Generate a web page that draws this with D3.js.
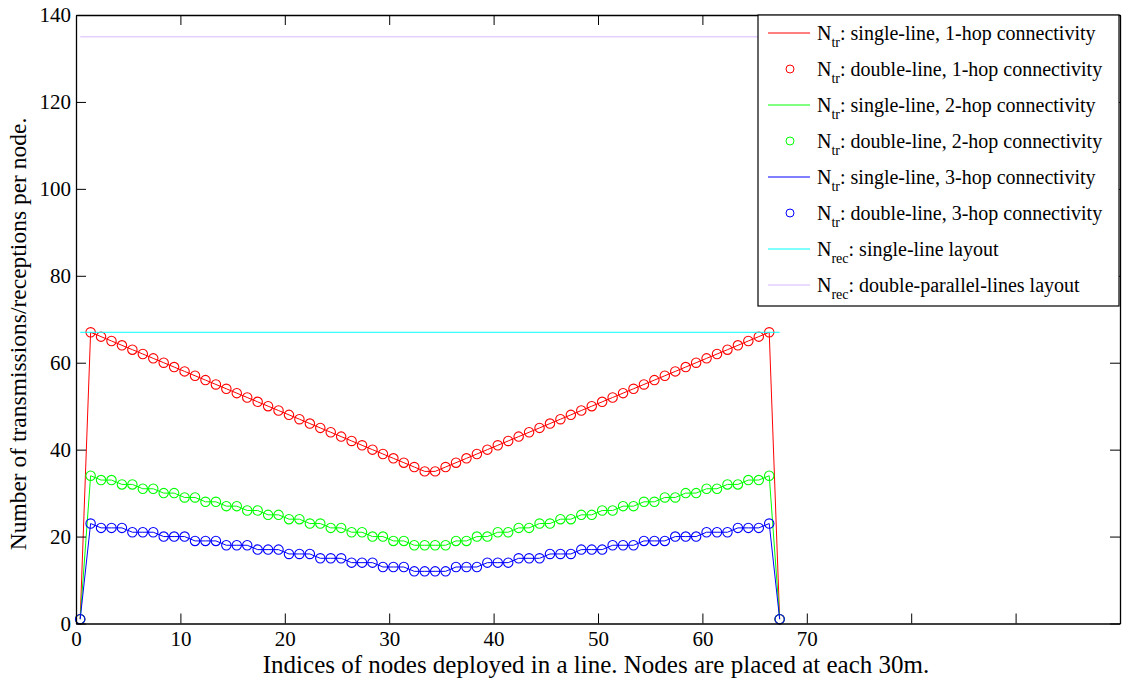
<!DOCTYPE html>
<html>
<head>
<meta charset="utf-8">
<script src="https://cdn.jsdelivr.net/npm/d3@7"></script>
<style>
    body { margin: 0; background: #fff; }
    text { font-family: "Liberation Serif", "Times New Roman", serif; fill: #000; }
</style>
</head>
<body>
<div id="chart"></div>
<script>
// node positions along the line (x) and per-node counts
const nodeX = [
    0.4, 1.4, 2.4, 3.4, 4.4, 5.4, 6.4, 7.4, 8.4, 9.4, 10.4, 11.4, 12.4, 13.4, 14.4, 15.4, 16.4,
    17.4, 18.4, 19.4, 20.4, 21.4, 22.4, 23.4, 24.4, 25.4, 26.4, 27.4, 28.4, 29.4, 30.4, 31.4, 32.4, 33.4,
    34.4, 35.4, 36.4, 37.4, 38.4, 39.4, 40.4, 41.4, 42.4, 43.4, 44.4, 45.4, 46.4, 47.4, 48.4, 49.4, 50.4,
    51.4, 52.4, 53.4, 54.4, 55.4, 56.4, 57.4, 58.4, 59.4, 60.4, 61.4, 62.4, 63.4, 64.4, 65.4, 66.4, 67.4
];
// single-line and double-line curves coincide in the figure, so one array feeds both
const hop1 = [
    1, 67, 66, 65, 64, 63, 62, 61, 60, 59, 58, 57, 56, 55, 54, 53, 52,
    51, 50, 49, 48, 47, 46, 45, 44, 43, 42, 41, 40, 39, 38, 37, 36, 35,
    35, 36, 37, 38, 39, 40, 41, 42, 43, 44, 45, 46, 47, 48, 49, 50, 51,
    52, 53, 54, 55, 56, 57, 58, 59, 60, 61, 62, 63, 64, 65, 66, 67, 1
];
const hop2 = [
    1, 34, 33, 33, 32, 32, 31, 31, 30, 30, 29, 29, 28, 28, 27, 27, 26,
    26, 25, 25, 24, 24, 23, 23, 22, 22, 21, 21, 20, 20, 19, 19, 18, 18,
    18, 18, 19, 19, 20, 20, 21, 21, 22, 22, 23, 23, 24, 24, 25, 25, 26,
    26, 27, 27, 28, 28, 29, 29, 30, 30, 31, 31, 32, 32, 33, 33, 34, 1
];
const hop3 = [
    1, 23, 22, 22, 22, 21, 21, 21, 20, 20, 20, 19, 19, 19, 18, 18, 18,
    17, 17, 17, 16, 16, 16, 15, 15, 15, 14, 14, 14, 13, 13, 13, 12, 12,
    12, 12, 13, 13, 13, 14, 14, 14, 15, 15, 15, 16, 16, 16, 17, 17, 17,
    18, 18, 18, 19, 19, 19, 20, 20, 20, 21, 21, 21, 22, 22, 22, 23, 1
];
const recSingle = 67;
const recDouble = 135;

const xTicks = [0, 10, 20, 30, 40, 50, 60, 70, 80, 90, 100];
const xTickLabels = ["0", "10", "20", "30", "40", "50", "60", "70", "", "", ""];
const yTicks = [0, 20, 40, 60, 80, 100, 120, 140];

const legendItems = [
    { sub: "tr", rest: ": single-line, 1-hop connectivity", color: "#ff0000", kind: "line" },
    { sub: "tr", rest: ": double-line, 1-hop connectivity", color: "#ff0000", kind: "circle" },
    { sub: "tr", rest: ": single-line, 2-hop connectivity", color: "#00ff00", kind: "line" },
    { sub: "tr", rest: ": double-line, 2-hop connectivity", color: "#00ff00", kind: "circle" },
    { sub: "tr", rest: ": single-line, 3-hop connectivity", color: "#0000ff", kind: "line" },
    { sub: "tr", rest: ": double-line, 3-hop connectivity", color: "#0000ff", kind: "circle" },
    { sub: "rec", rest: ": single-line layout", color: "#00ffff", kind: "line" },
    { sub: "rec", rest: ": double-parallel-lines layout", color: "#e4d0ff", kind: "line" }
];

const W = 1123, H = 682;
const margin = { top: 15, right: 3, bottom: 58.5, left: 76 };
const width = W - margin.left - margin.right;
const height = H - margin.top - margin.bottom;

let svg = d3.select("#chart").append("svg")
    .attr("width", W)
    .attr("height", H);

let g = svg.append("g")
    .attr("transform", "translate(" + margin.left + "," + margin.top + ")");

let x = d3.scaleLinear().domain([0, 100]).range([0, width]);
let y = d3.scaleLinear().domain([0, 140]).range([height, 0]);

// series: lines then circles, in legend order
let series = [
    { values: hop1, color: "#ff0000" },
    { values: hop2, color: "#00ff00" },
    { values: hop3, color: "#0000ff" }
];

let line = d3.line()
    .x(d => x(d[0]))
    .y(d => y(d[1]));

series.forEach(s => {
    let pts = nodeX.map((v, i) => [v, s.values[i]]);
    g.append("path")
        .datum(pts)
        .attr("d", line)
        .attr("fill", "none")
        .attr("stroke", s.color)
        .attr("stroke-width", 1);
    g.append("g").selectAll("circle").data(pts).join("circle")
        .attr("cx", d => x(d[0]))
        .attr("cy", d => y(d[1]))
        .attr("r", 4.7)
        .attr("fill", "none")
        .attr("stroke", s.color)
        .attr("stroke-width", 1.1);
});

// N_rec reference lines
g.append("path")
    .datum([[nodeX[0], recSingle], [nodeX[nodeX.length - 1], recSingle]])
    .attr("d", line)
    .attr("stroke", "#00ffff")
    .attr("stroke-width", 1);
g.append("path")
    .datum([[nodeX[0], recDouble], [nodeX[nodeX.length - 1], recDouble]])
    .attr("d", line)
    .attr("stroke", "#e4d0ff")
    .attr("stroke-width", 1.5);

// axes, ticks pointing inwards on all four sides
let tickFont = "21px";
let xAxis = d3.axisBottom(x).tickValues(xTicks).tickSize(-10).tickSizeOuter(0).tickPadding(8)
    .tickFormat((d, i) => xTickLabels[i]);
g.append("g")
    .attr("transform", "translate(0," + height + ")")
    .call(xAxis)
    .attr("font-family", null)
    .call(a => a.selectAll("text").style("font-size", tickFont));

g.append("g")
    .call(d3.axisTop(x).tickValues(xTicks).tickSize(-10).tickSizeOuter(0).tickFormat(""));

g.append("g")
    .call(d3.axisLeft(y).tickValues(yTicks).tickSize(-10).tickSizeOuter(0).tickPadding(5))
    .attr("font-family", null)
    .call(a => a.selectAll("text").style("font-size", tickFont));

g.append("g")
    .attr("transform", "translate(" + width + ",0)")
    .call(d3.axisRight(y).tickValues(yTicks).tickSize(-10).tickSizeOuter(0).tickFormat(""));

g.selectAll(".domain").attr("stroke", "#000").attr("stroke-width", 1.3);
g.selectAll(".tick line").attr("stroke", "#000");

// axis titles
svg.append("text")
    .attr("x", 596)
    .attr("y", 673)
    .attr("text-anchor", "middle")
    .style("font-size", "25px")
    .text("Indices of nodes deployed in a line. Nodes are placed at each 30m.");

svg.append("text")
    .attr("transform", "translate(26,334) rotate(-90)")
    .attr("text-anchor", "middle")
    .style("font-size", "23.5px")
    .text("Number of transmissions/receptions per node.");

// legend
let legend = svg.append("g").attr("transform", "translate(758,15)");
legend.append("rect")
    .attr("width", 361)
    .attr("height", 291)
    .attr("fill", "#fff")
    .attr("stroke", "#000")
    .attr("stroke-width", 1.2);

let rows = legend.selectAll(".legendRow").data(legendItems).join("g")
    .attr("class", "legendRow")
    .attr("transform", (d, i) => "translate(0," + (18 + i * 36) + ")");

rows.filter(d => d.kind === "line").append("line")
    .attr("x1", 10).attr("x2", 52)
    .attr("stroke", d => d.color)
    .attr("stroke-width", d => d.color === "#e4d0ff" ? 1.5 : 1);

rows.filter(d => d.kind === "circle").append("circle")
    .attr("cx", 32).attr("r", 4)
    .attr("fill", "none")
    .attr("stroke", d => d.color);

let labels = rows.append("text")
    .attr("x", 59)
    .attr("y", 7)
    .style("font-size", "20px");
labels.append("tspan").text("N");
labels.append("tspan").attr("dy", 7).style("font-size", "14px").text(d => d.sub);
labels.append("tspan").attr("dy", -7).text(d => d.rest);
</script>
</body>
</html>
